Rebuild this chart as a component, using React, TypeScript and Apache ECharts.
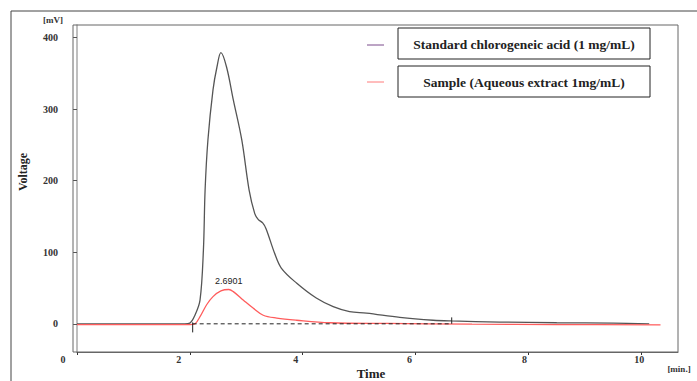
import React, { useEffect, useRef } from 'react';
import * as echarts from 'echarts';

// Tick values
const xTickValues = [0, 2, 4, 6, 8, 10];
const yTickValues = [0, 100, 200, 300, 400];

// Standard chlorogenic acid chromatogram (time in min, voltage in mV)
const stdTime = [0, 0.5, 1.0, 1.5, 1.91, 2.0, 2.09, 2.18, 2.24, 2.27, 2.32, 2.41, 2.48, 2.55, 2.65, 2.77, 2.92, 3.05, 3.15, 3.21, 3.29, 3.35, 3.5, 3.62, 3.89, 4.24, 4.54, 4.83, 5.13, 5.72, 6.31, 6.63, 7.49, 8.5, 9.5, 10.14];
const stdVoltage = [0, 0, 0, 0, 0, 1, 12, 33, 103, 187, 257, 327, 359, 379, 359, 313, 257, 187, 154, 146, 141, 133, 99, 78, 57, 36, 24, 17, 15, 9, 5, 4, 2.5, 1.5, 1, 0];

// Sample (aqueous extract) chromatogram
const smpTime = [0, 1.0, 2.0, 2.09, 2.18, 2.3, 2.41, 2.55, 2.69, 2.77, 2.95, 3.12, 3.3, 3.54, 3.89, 4.48, 5.5, 7.0, 8.5, 10.34];
const smpVoltage = [-1, -1, -1, 0, 10, 27, 38, 46, 48, 45, 33, 22, 12, 8, 5, 1.5, 0.5, -0.5, -1, -1.5];
const peakLabel = '2.6901';

// Integration baseline and its start/end markers
const baseTime = [2.05, 6.64];
const baseVoltage = [0, 0];
const startMark = [[2.05, 2], [2.05, -12]];
const endMark = [[6.64, 9], [6.64, 0]];

const legendNames = ['Standard chlorogeneic acid (1 mg/mL)', 'Sample (Aqueous extract 1mg/mL)'];
const xAxisTitle = 'Time';
const yAxisTitle = 'Voltage';

const SERIF = '"Liberation Serif", "Times New Roman", serif';
const STD_COLOR = '#555555';
const SMP_COLOR = '#ff5c5c';

const xLabelShift: Record<string, number> = { '0': 14, '2': 11, '4': 7, '6': 6, '8': 4, '10': 2 };

export default function App() {
  const ref = useRef<HTMLDivElement>(null);
  useEffect(() => {
    const chart = echarts.init(ref.current!, null, { renderer: 'svg' });
    const peakIdx = smpVoltage.indexOf(Math.max(...smpVoltage));
    const rich: Record<string, any> = {};
    Object.keys(xLabelShift).forEach((k) => {
      rich['o' + k] = {
        fontFamily: SERIF,
        fontWeight: 'bold',
        fontSize: 10,
        color: '#333',
        padding: [0, xLabelShift[k] * 2, 0, 0],
      };
    });
    chart.setOption({
      animation: false,
      backgroundColor: '#ffffff',
      grid: { left: 77, right: 19, top: 25, bottom: 29, show: false, containLabel: false, outerBoundsMode: 'none' },
      xAxis: {
        type: 'value',
        min: 0,
        max: 10.65,
        axisLine: { show: true, onZero: false, lineStyle: { color: '#666', width: 1 } },
        axisTick: { show: true, customValues: xTickValues, length: 3, lineStyle: { color: '#333' } },
        axisLabel: {
          customValues: xTickValues,
          margin: 2,
          fontFamily: SERIF,
          fontWeight: 'bold',
          fontSize: 10,
          color: '#333',
          formatter: (v: number) => `{o${v}|${v}}`,
          rich,
        },
        splitLine: { show: false },
      },
      yAxis: {
        type: 'value',
        min: -39.4,
        max: 417.7,
        axisLine: { show: true, onZero: false, lineStyle: { color: '#aaa', width: 1.5 } },
        axisTick: { show: true, customValues: yTickValues, length: 4, lineStyle: { color: '#555' } },
        axisLabel: {
          customValues: yTickValues,
          margin: 19,
          fontFamily: SERIF,
          fontWeight: 'bold',
          fontSize: 10,
          color: '#333',
        },
        splitLine: { show: false },
      },
      series: [
        {
          name: legendNames[0],
          type: 'line',
          data: stdTime.map((t, i) => [t, stdVoltage[i]]),
          showSymbol: false,
          smooth: 0.35,
          lineStyle: { color: STD_COLOR, width: 1.3 },
          z: 2,
        },
        {
          name: legendNames[1],
          type: 'line',
          data: smpTime.map((t, i) => [t, smpVoltage[i]]),
          showSymbol: false,
          smooth: 0.35,
          lineStyle: { color: SMP_COLOR, width: 1.3 },
          markPoint: {
            symbol: 'circle',
            symbolSize: 1,
            itemStyle: { color: 'rgba(0,0,0,0)' },
            label: {
              show: true,
              position: 'top',
              distance: 3,
              formatter: peakLabel,
              fontFamily: '"Liberation Sans", Arial, sans-serif',
              fontSize: 9,
              color: '#222',
            },
            data: [{ coord: [smpTime[peakIdx], smpVoltage[peakIdx]] }],
          },
          z: 3,
        },
        {
          type: 'line',
          data: baseTime.map((t, i) => [t, baseVoltage[i]]),
          showSymbol: false,
          lineStyle: { color: '#222', width: 1, type: [4, 3] },
          z: 4,
        },
        {
          type: 'line',
          data: startMark,
          showSymbol: false,
          lineStyle: { color: '#222', width: 1 },
          z: 4,
        },
        {
          type: 'line',
          data: endMark,
          showSymbol: false,
          lineStyle: { color: '#222', width: 1 },
          z: 4,
        },
      ],
      graphic: [
        // outer frame (top and left)
        { type: 'line', shape: { x1: 11, y1: 11, x2: 697, y2: 11 }, style: { stroke: '#444', lineWidth: 1 } },
        { type: 'line', shape: { x1: 11, y1: 11, x2: 11, y2: 381 }, style: { stroke: '#444', lineWidth: 1 } },
        // plot frame
        { type: 'rect', shape: { x: 73, y: 25, width: 605, height: 327 }, style: { fill: 'none', stroke: '#666', lineWidth: 1 }, z: 10 },
        // units
        { type: 'text', x: 53, y: 20, style: { text: '[mV]', fontFamily: SERIF, fontWeight: 'bold', fontSize: 9, fill: '#333', align: 'center', verticalAlign: 'middle' } },
        { type: 'text', x: 679, y: 369, style: { text: '[min.]', fontFamily: SERIF, fontWeight: 'bold', fontSize: 9, fill: '#333', align: 'center', verticalAlign: 'middle' } },
        // axis titles
        { type: 'text', x: 371, y: 380, style: { text: xAxisTitle, fontFamily: SERIF, fontWeight: 'bold', fontSize: 13, fill: '#222', align: 'center', verticalAlign: 'bottom' } },
        { type: 'text', x: 23, y: 172, rotation: Math.PI / 2, style: { text: yAxisTitle, fontFamily: SERIF, fontWeight: 'bold', fontSize: 12, fill: '#222', align: 'center', verticalAlign: 'middle' } },
        // legend
        { type: 'line', shape: { x1: 367, y1: 45, x2: 384, y2: 45 }, style: { stroke: '#7b4b8b', lineWidth: 1 } },
        { type: 'rect', shape: { x: 398, y: 28, width: 252, height: 31 }, style: { fill: '#fff', stroke: '#222', lineWidth: 1 } },
        { type: 'text', x: 524, y: 44, style: { text: legendNames[0], fontFamily: SERIF, fontWeight: 'bold', fontSize: 13.5, fill: '#222', align: 'center', verticalAlign: 'middle' } },
        { type: 'line', shape: { x1: 367, y1: 82, x2: 384, y2: 82 }, style: { stroke: '#ff7b7b', lineWidth: 1 } },
        { type: 'rect', shape: { x: 398, y: 66, width: 252, height: 31 }, style: { fill: '#fff', stroke: '#222', lineWidth: 1 } },
        { type: 'text', x: 524, y: 82, style: { text: legendNames[1], fontFamily: SERIF, fontWeight: 'bold', fontSize: 13.5, fill: '#222', align: 'center', verticalAlign: 'middle' } },
      ],
    });
    return () => chart.dispose();
  }, []);
  return <div ref={ref} style={{ position: 'fixed', left: 0, top: 0, width: 697, height: 381 }} />;
}
